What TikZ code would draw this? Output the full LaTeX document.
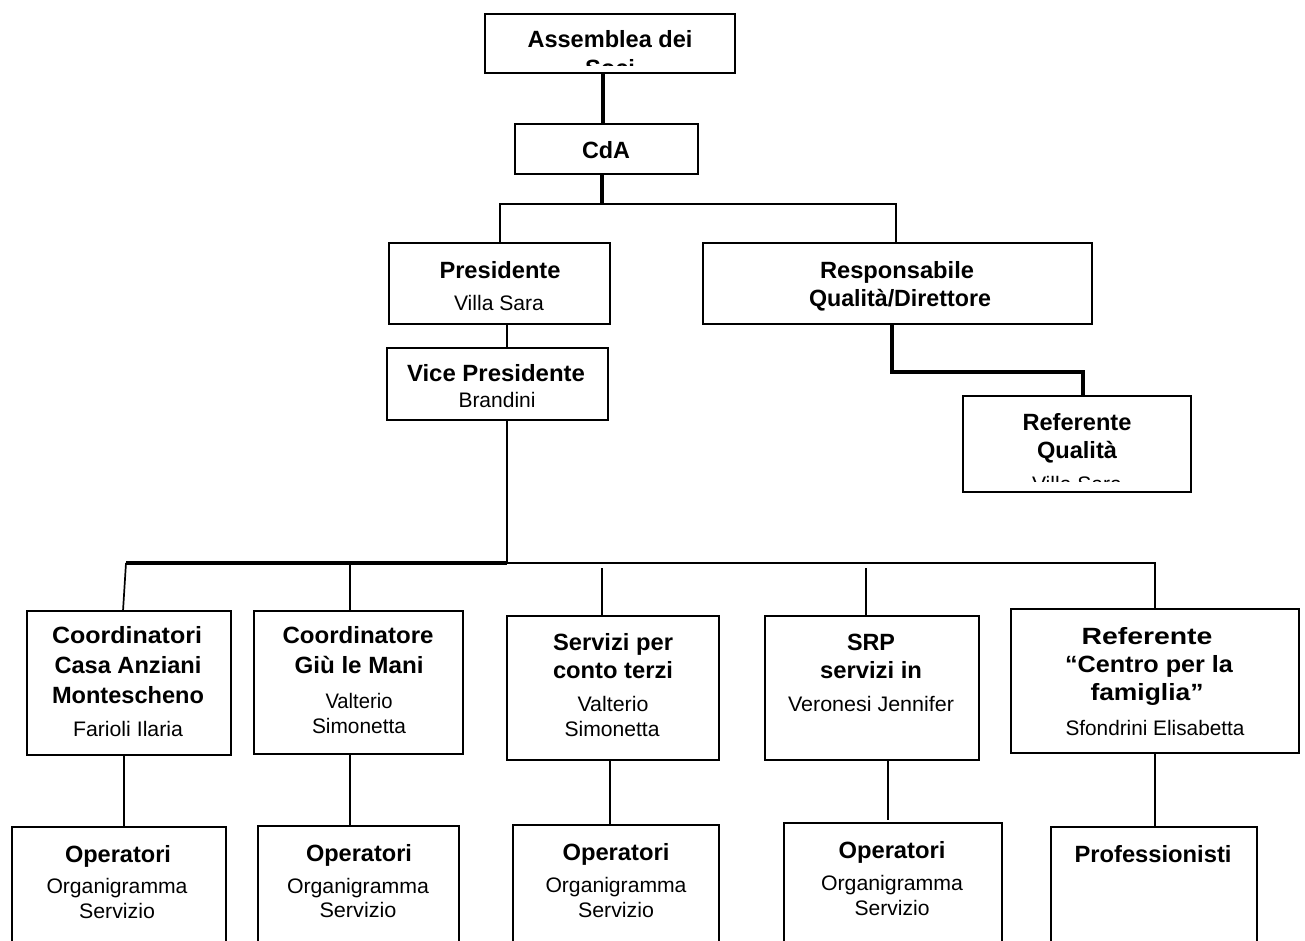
\documentclass[tikz,border=0pt]{standalone}
\usepackage{fontspec}
\setmainfont{Liberation Sans}
\usepackage{graphicx}
\newlength\fitL
\newcommand\fitw[2]{\settowidth\fitL{#2}\pgfmathsetmacro\fitS{#1/\fitL}\scalebox{\fitS}[1]{#2}}
\newcommand\bfnt{\fontsize{23.5}{27}\selectfont\bfseries}
\newcommand\rfnt{\fontsize{21}{25}\selectfont}
\newcommand\bt[5]{\node[txt,font=\bfnt] (#1) at (#2,#3+8.4) {\fitw{#4}{#5}};}
\newcommand\rt[5]{\node[txt,font=\rfnt] (#1) at (#2,#3+7.5) {\fitw{#4}{#5}};}
\newcommand\bx[5]{\node[box,minimum width={#4-#2},minimum height={#5-#3}] (#1) at ({(#2+#4)/2},{(#3+#5)/2}) {};}
\tikzset{
  box/.style={draw=black,line width=2pt,inner sep=0pt,outer sep=0pt},
  txt/.style={anchor=base,inner sep=0pt,outer sep=0pt},
  conn/.style={draw=black,line width=1.7pt},
  thickc/.style={draw=black,line width=3.2pt},
}
\begin{document}
\begin{tikzpicture}[x=1pt,y=-1pt]
\useasboundingbox (0,0) rectangle (1305,941);
\fill[white] (0,0) rectangle (1305,941);
\clip (0,0) rectangle (1305,941);

% ---- boxes ----
\bx{asm}{485}{14}{735}{73}
\bx{cda}{515}{124}{698}{174}
\bx{pres}{389}{243}{610}{324}
\bx{resp}{703}{243}{1092}{324}
\bx{vice}{387}{348}{608}{420}
\bx{refq}{963}{396}{1191}{492}
\bx{b1}{27}{611}{231}{755}
\bx{b2}{254}{611}{463}{754}
\bx{b3}{507}{616}{719}{760}
\bx{b4}{765}{616}{979}{760}
\bx{b5}{1011}{609}{1299}{753}
\bx{o1}{12}{827}{226}{970}
\bx{o2}{258}{826}{459}{970}
\bx{o3}{513}{825}{719}{970}
\bx{o4}{784}{823}{1002}{970}
\bx{p5}{1051}{827}{1257}{970}

% ---- texts ----
\begin{scope}
\clip (485,14) rectangle (735,66);
\bt{asmA}{610}{39}{165}{Assemblea dei}
\bt{asmB}{610}{68}{50}{Soci}
\end{scope}
\bt{cdaA}{606}{150}{48}{CdA}
\bt{presA}{500}{270}{121}{Presidente}
\rt{presB}{499}{303}{90}{Villa Sara}
\bt{respA}{897}{270}{154}{Responsabile}
\bt{respB}{900}{298}{182}{Qualità/Direttore}
\bt{viceA}{496}{373}{178}{Vice Presidente}
\rt{viceB}{497}{400}{77}{Brandini}
\bt{refqA}{1077}{422}{109}{Referente}
\bt{refqB}{1077}{450}{80}{Qualità}
\begin{scope}
\clip (963,396) rectangle (1191,481);
\rt{refqC}{1077}{484}{90}{Villa Sara}
\end{scope}

\bt{b1A}{127}{635}{150}{Coordinatori}
\bt{b1B}{128}{665}{147}{Casa Anziani}
\bt{b1C}{128}{695}{152}{Montescheno}
\rt{b1D}{128}{729}{110}{Farioli Ilaria}

\bt{b2A}{358}{635}{151}{Coordinatore}
\bt{b2B}{359}{665}{129}{Giù le Mani}
\rt{b2C}{359}{701}{67}{Valterio}
\rt{b2D}{359}{726}{94}{Simonetta}

\bt{b3A}{613}{642}{120}{Servizi per}
\bt{b3B}{613}{670}{120}{conto terzi}
\rt{b3C}{613}{704}{71}{Valterio}
\rt{b3D}{612}{729}{95}{Simonetta}

\bt{b4A}{871}{642}{48}{SRP}
\bt{b4B}{871}{670}{102}{servizi in}
\rt{b4C}{871}{704}{166}{Veronesi Jennifer}

\bt{b5A}{1147}{636}{131}{Referente}
\bt{b5B}{1149}{664}{168}{“Centro per la}
\bt{b5C}{1147}{692}{113}{famiglia”}
\rt{b5D}{1155}{728}{179}{Sfondrini Elisabetta}

\bt{o1A}{118}{854}{106}{Operatori}
\rt{o1B}{117}{886}{141}{Organigramma}
\rt{o1C}{117}{911}{76}{Servizio}

\bt{o2A}{359}{853}{106}{Operatori}
\rt{o2B}{358}{886}{142}{Organigramma}
\rt{o2C}{358}{910}{77}{Servizio}

\bt{o3A}{616}{852}{107}{Operatori}
\rt{o3B}{616}{885}{141}{Organigramma}
\rt{o3C}{616}{910}{76}{Servizio}

\bt{o4A}{892}{850}{107}{Operatori}
\rt{o4B}{892}{883}{142}{Organigramma}
\rt{o4C}{892}{908}{75}{Servizio}

\bt{p5A}{1153}{854}{157}{Professionisti}

% ---- connector coordinates ----
\coordinate (xA) at (603,0);
\coordinate (xB) at (602,0);
\coordinate (busT) at (0,204);
\coordinate (xP) at (500,0);
\coordinate (xR) at (896,0);
\coordinate (xV) at (507,0);
\coordinate (busB) at (0,563);
\coordinate (busG) at (0,568);
\coordinate (x1t) at (126,0);
\coordinate (x1b) at (123,0);
\coordinate (x2) at (350,0);
\coordinate (x3) at (602,0);
\coordinate (x4) at (866,0);
\coordinate (x5) at (1155,0);
\coordinate (xQ1) at (892,0);
\coordinate (xQ2) at (1083,0);
\coordinate (yQ) at (0,372);
\coordinate (d1) at (124,0);
\coordinate (d2) at (350,0);
\coordinate (d3) at (610,0);
\coordinate (d4) at (888,0);
\coordinate (d5) at (1155,0);
\coordinate (y4) at (0,820);

% ---- connectors ----
\draw[thickc] (asm.south -| xA) -- (cda.north -| xA);
\draw[thickc] (cda.south -| xB) -- (xB |- busT);
\draw[conn] (pres.north -| xP) -- (xP |- busT) -- (xR |- busT) -- (resp.north -| xR);
\draw[conn] (pres.south -| xV) -- (vice.north -| xV);
\draw[conn] (vice.south -| xV) -- (xV |- busB);
\draw[thickc] (resp.south -| xQ1) -- (xQ1 |- yQ) -- (xQ2 |- yQ) -- (refq.north -| xQ2);

\draw[thickc] (x1t |- busB) -- (xV |- busB);
\draw[conn] (xV |- busB) -- (x5 |- busB) -- (b5.north -| x5);
\draw[conn] (x1t |- busB) -- (b1.north -| x1b);
\draw[conn] (x2 |- busB) -- (b2.north -| x2);
\draw[conn] (x3 |- busG) -- (b3.north -| x3);
\draw[conn] (x4 |- busG) -- (b4.north -| x4);

\draw[conn] (b1.south -| d1) -- (o1.north -| d1);
\draw[conn] (b2.south -| d2) -- (o2.north -| d2);
\draw[conn] (b3.south -| d3) -- (o3.north -| d3);
\draw[conn] (b4.south -| d4) -- (d4 |- y4);
\draw[conn] (b5.south -| d5) -- (p5.north -| d5);
\end{tikzpicture}
\end{document}
